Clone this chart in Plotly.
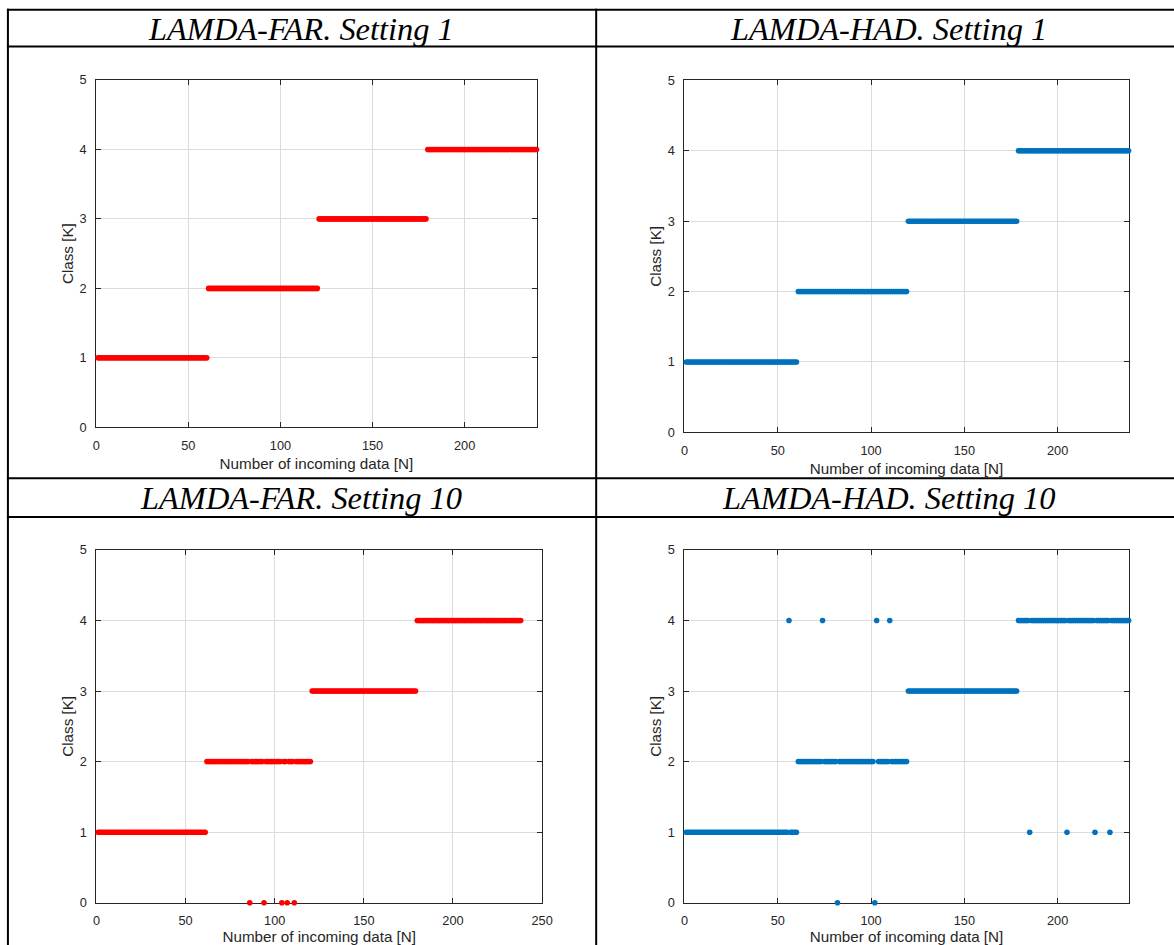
import plotly.graph_objects as go

W, H = 1174, 945

# ---------------- data ----------------
# Each run: (first sample index, last sample index, class)
FAR1_RUNS = [(1, 60, 1), (61, 120, 2), (121, 179, 3), (180, 239, 4)]
FAR1_OUTLIERS = {}

HAD1_RUNS = [(1, 60, 1), (61, 119, 2), (120, 178, 3), (179, 238, 4)]
HAD1_OUTLIERS = {}

FAR10_RUNS = [(1, 61, 1), (62, 120, 2), (121, 179, 3), (180, 238, 4)]
FAR10_OUTLIERS = {86: 0, 94: 0, 104: 0, 107: 0, 111: 0}

HAD10_RUNS = [(1, 60, 1), (61, 119, 2), (120, 178, 3), (179, 238, 4)]
HAD10_OUTLIERS = {56: 4, 74: 4, 82: 0, 102: 0, 103: 4, 110: 4,
                  185: 1, 205: 1, 220: 1, 228: 1}

TITLES = ["LAMDA-FAR. Setting 1", "LAMDA-HAD. Setting 1",
          "LAMDA-FAR. Setting 10", "LAMDA-HAD. Setting 10"]
X_MAX = [239, 238, 250, 238]
Y_TICKS = [0, 1, 2, 3, 4, 5]
X_LABEL = "Number of incoming data [N]"
Y_LABEL = "Class [K]"

RED = "#ff0000"
BLUE = "#0072bd"

# screen-to-figure correction (the photographed page is slightly scaled)
SX, OX = 0.9893, 3.07
SY, OY = 0.982, 7.32
FS = 0.986


def fx(px):
    return (px - OX) / SX / W


def fy(py):
    return 1 - (py - OY) / SY / H


def expand(runs, outliers):
    xs, ys = [], []
    for a, b, c in runs:
        for i in range(a, b + 1):
            xs.append(i)
            ys.append(outliers.get(i, c))
    return xs, ys


panels = [
    (FAR1_RUNS, FAR1_OUTLIERS, RED),
    (HAD1_RUNS, HAD1_OUTLIERS, BLUE),
    (FAR10_RUNS, FAR10_OUTLIERS, RED),
    (HAD10_RUNS, HAD10_OUTLIERS, BLUE),
]

# plot-area pixel boxes in the target picture: (left, right, top, bottom)
boxes = [
    (95.5, 536.7, 79.5, 428.0),
    (685.0, 1130.0, 80.0, 433.0),
    (95.7, 542.3, 551.0, 905.0),
    (685.0, 1130.0, 551.0, 905.0),
]

fig = go.Figure()
layout = {}
SANS = "Liberation Sans, Arial, sans-serif"
TICKFONT = dict(family=SANS, size=12.6 / FS, color="#262626")
TITLEFONT = dict(family=SANS, size=15.0 / FS, color="#262626")

for k, ((runs, outl, col), (l, r, t, b)) in enumerate(zip(panels, boxes)):
    xs, ys = expand(runs, outl)
    sfx = "" if k == 0 else str(k + 1)
    fig.add_trace(go.Scatter(
        x=xs, y=ys, mode="markers",
        marker=dict(color=col, size=5.6, line=dict(width=0)),
        xaxis="x" + sfx, yaxis="y" + sfx, cliponaxis=False,
        showlegend=False, hoverinfo="skip"))
    common = dict(showline=True, linecolor="#262626", linewidth=1,
                  mirror="ticks", ticks="inside", ticklen=5, tickwidth=1,
                  tickcolor="#262626", showgrid=True, gridcolor="#dcdcdc",
                  gridwidth=1, zeroline=False, tickfont=TICKFONT,
                  layer="below traces")
    layout["xaxis" + sfx] = dict(
        common, domain=[fx(l), fx(r)], anchor="y" + sfx,
        range=[0, X_MAX[k]], tickmode="linear", tick0=0, dtick=50,
        ticklabelstandoff=6,
        title=dict(text=X_LABEL, font=TITLEFONT, standoff=6))
    layout["yaxis" + sfx] = dict(
        common, domain=[fy(b), fy(t)], anchor="x" + sfx,
        range=[0, 5], tickvals=Y_TICKS, ticklabelstandoff=6,
        title=dict(text=Y_LABEL, font=TITLEFONT, standoff=2))

# table grid lines
shapes = []
LW = 2
for yp in [9, 46, 479, 518]:
    shapes.append(dict(type="line", xref="paper", yref="paper",
                       x0=fx(6), x1=1.05, y0=fy(yp), y1=fy(yp),
                       line=dict(color="black", width=LW)))
for xp in [7, 596.5]:
    shapes.append(dict(type="line", xref="paper", yref="paper",
                       x0=fx(xp), x1=fx(xp), y0=fy(8), y1=-0.05,
                       line=dict(color="black", width=LW)))

title_pos = [(301, 28), (889, 28), (301, 499), (889, 499)]
annotations = []
for txt, (xp, yp) in zip(TITLES, title_pos):
    annotations.append(dict(
        text=txt, xref="paper", yref="paper", x=fx(xp), y=fy(yp),
        xanchor="center", yanchor="middle", showarrow=False,
        font=dict(family="Liberation Serif, Times New Roman, serif",
                  size=32 / FS, color="black", style="italic")))

fig.update_layout(
    width=W, height=H, margin=dict(l=0, r=0, t=0, b=0),
    paper_bgcolor="white", plot_bgcolor="white",
    shapes=shapes, annotations=annotations, **layout)

fig.write_html("out.html")
